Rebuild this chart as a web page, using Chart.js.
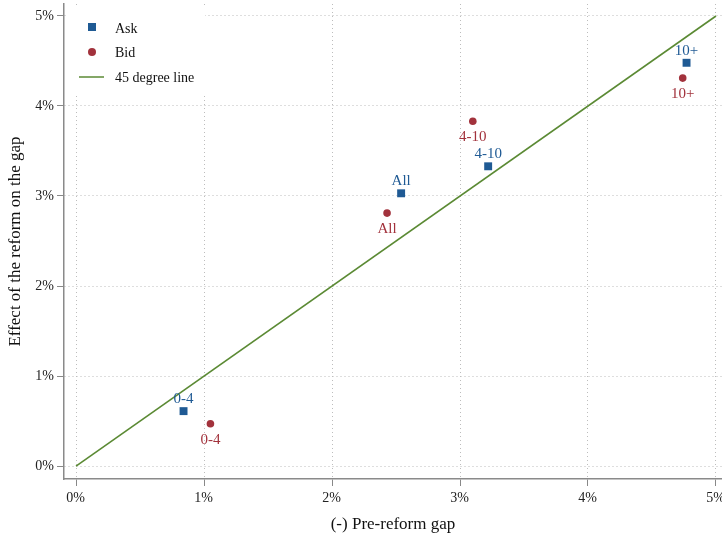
<!DOCTYPE html>
<html>
<head>
<meta charset="utf-8">
<script src="https://cdn.jsdelivr.net/npm/chart.js@4/dist/chart.umd.min.js"></script>
<style>
  html, body { margin: 0; padding: 0; background: #fff; }
  #wrap { width: 722px; height: 541px; }
</style>
</head>
<body>
<div id="wrap"><canvas id="chart" width="722" height="541"></canvas></div>
<script>
// data (percent)
const groups = ["0-4", "All", "4-10", "10+"];
const askX = [0.84, 2.54, 3.22, 4.77];
const askY = [0.61, 3.03, 3.33, 4.48];
const bidX = [1.05, 2.43, 3.10, 4.74];
const bidY = [0.47, 2.81, 3.83, 4.31];
const lineX = [0, 5];
const lineY = [0, 5];
const tickValues = [0, 1, 2, 3, 4, 5];

const blue = "#1f5a94";
const red = "#a2323c";
const green = "#5b8a34";
const serif = "'Liberation Serif', 'DejaVu Serif', serif";

const pts = (xs, ys) => xs.map((x, i) => ({ x: x, y: ys[i] }));

// text labels next to each point
const pointLabels = {
    id: "pointLabels",
    afterDatasetsDraw(chart) {
        const ctx = chart.ctx;
        ctx.save();
        ctx.font = "15px " + serif;
        ctx.textAlign = "center";
        ctx.textBaseline = "middle";
        [[0, blue, -12], [1, red, 16]].forEach(([di, col, dy]) => {
            chart.getDatasetMeta(di).data.forEach((el, i) => {
                ctx.fillStyle = col;
                ctx.fillText(groups[i], el.x, el.y + dy);
            });
        });
        ctx.restore();
    }
};

// legend box inside the plot, top left
const insideLegend = {
    id: "insideLegend",
    beforeDatasetsDraw(chart) {
        const ctx = chart.ctx;
        ctx.save();
        ctx.fillStyle = "#fff";
        ctx.fillRect(67, 7, 138, 87);
        ctx.restore();
    },
    afterDraw(chart) {
        const ctx = chart.ctx;
        ctx.save();
        ctx.fillStyle = blue;
        ctx.fillRect(88, 23, 8, 8);
        ctx.fillStyle = red;
        ctx.beginPath();
        ctx.arc(92, 52, 4, 0, Math.PI * 2);
        ctx.fill();
        ctx.strokeStyle = green;
        ctx.lineWidth = 1.5;
        ctx.beginPath();
        ctx.moveTo(79, 77);
        ctx.lineTo(104, 77);
        ctx.stroke();
        ctx.fillStyle = "#111";
        ctx.font = "14px " + serif;
        ctx.textBaseline = "middle";
        ctx.fillText("Ask", 115, 29);
        ctx.fillText("Bid", 115, 53);
        ctx.fillText("45 degree line", 115, 78);
        ctx.restore();
    }
};

const gridOpts = {
    color: "#bdbdbd",
    tickColor: "#888",
    tickLength: 7,
    tickWidth: 1,
    lineWidth: 1
};

new Chart(document.getElementById("chart"), {
    type: "scatter",
    data: {
        datasets: [
            {
                label: "Ask",
                data: pts(askX, askY),
                pointStyle: "rect",
                pointRadius: 5.6,
                backgroundColor: blue,
                borderColor: blue,
                borderWidth: 0
            },
            {
                label: "Bid",
                data: pts(bidX, bidY),
                pointStyle: "circle",
                pointRadius: 3.8,
                backgroundColor: red,
                borderColor: red,
                borderWidth: 0
            },
            {
                type: "line",
                label: "45 degree line",
                data: pts(lineX, lineY),
                borderColor: green,
                borderWidth: 1.6,
                pointRadius: 0,
                fill: false
            }
        ]
    },
    options: {
        responsive: false,
        animation: false,
        layout: { autoPadding: false, padding: { top: 4, right: 0, left: 0, bottom: 0 } },
        plugins: {
            legend: { display: false },
            tooltip: { enabled: false }
        },
        scales: {
            x: {
                type: "linear",
                min: -0.094,
                max: 5.047,
                afterBuildTicks: s => { s.ticks = tickValues.map(v => ({ value: v })); },
                afterFit: s => { s.height = 62; s.paddingLeft = 0; s.paddingRight = 0; },
                grid: gridOpts,
                border: { color: "#8a8a8a", width: 1.5, dash: [1, 3] },
                ticks: {
                    color: "#222",
                    padding: 4,
                    maxRotation: 0,
                    // right-aligned then shifted, so the last label may run off the edge
                    align: "end",
                    labelOffset: 9,
                    font: { family: serif, size: 14 },
                    callback: v => v + "%"
                },
                title: {
                    display: true,
                    text: "(-) Pre-reform gap",
                    color: "#111",
                    font: { family: serif, size: 17 },
                    padding: { top: 2, bottom: 6 }
                }
            },
            y: {
                type: "linear",
                min: -0.144,
                max: 5.133,
                afterBuildTicks: s => { s.ticks = tickValues.map(v => ({ value: v })); },
                afterFit: s => { s.width = 64; s.paddingTop = 0; s.paddingBottom = 0; },
                grid: gridOpts,
                border: { color: "#8a8a8a", width: 1.5, dash: [1, 3] },
                ticks: {
                    color: "#222",
                    padding: 3,
                    font: { family: serif, size: 14 },
                    callback: v => v + "%"
                },
                title: {
                    display: true,
                    text: "Effect of the reform on the gap",
                    color: "#111",
                    font: { family: serif, size: 17 },
                    padding: { top: 5, bottom: 2 }
                }
            }
        }
    },
    plugins: [insideLegend, pointLabels]
});
</script>
</body>
</html>
